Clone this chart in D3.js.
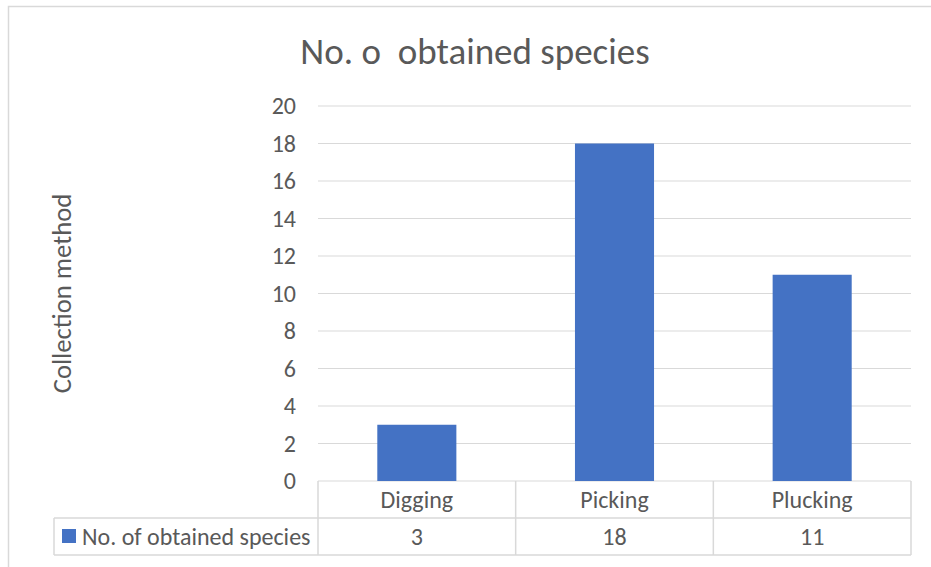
<!DOCTYPE html>
<html>
<head>
<meta charset="utf-8">
<script src="https://cdn.jsdelivr.net/npm/d3@7"></script>
<style>
  body { margin: 0; background: #fff; }
  text { font-family: Calibri, Carlito, "Open Sans", sans-serif; fill: #595959; white-space: pre; }
</style>
</head>
<body>
<div id="chart"></div>
<script>
// data
const categories = ["Digging", "Picking", "Plucking"];
const counts = [3, 18, 11];
const seriesName = "No. of obtained species";
const yTicks = [0, 2, 4, 6, 8, 10, 12, 14, 16, 18, 20];
const chartTitle = "No. o  obtained species";
const yLabel = "Collection method";

const width = 931, height = 567;
const margin = { top: 106, right: 20, bottom: 86, left: 318 };
const plotW = 911 - margin.left;
const plotH = 481 - margin.top;
const rowH = 37;
const tableLeft = 54;
const fs = 24;

const svg = d3.select("#chart")
    .append("svg")
    .attr("width", width)
    .attr("height", height);

// outer frame (top and left edges visible)
svg.append("path")
    .attr("d", "M8.5,567 V6.5 H931")
    .attr("fill", "none")
    .attr("stroke", "#d9d9d9")
    .attr("stroke-width", 1.5);

// title
svg.append("text")
    .attr("x", 475)
    .attr("y", 64)
    .attr("text-anchor", "middle")
    .style("font-size", "37px")
    .text(chartTitle);

const g = svg.append("g")
    .attr("transform", `translate(${margin.left},${margin.top})`);

// scales
const x = d3.scaleBand()
    .domain(categories)
    .range([0, plotW])
    .paddingInner(0.6)
    .paddingOuter(0.3);

const xCell = d3.scaleBand()
    .domain(categories)
    .range([0, plotW]);

const y = d3.scaleLinear()
    .domain([0, 20])
    .range([plotH, 0]);

// gridlines
g.append("g")
    .selectAll("line")
    .data(yTicks)
    .join("line")
    .attr("x1", 0)
    .attr("x2", plotW)
    .attr("y1", d => y(d))
    .attr("y2", d => y(d))
    .attr("stroke", "#d9d9d9")
    .attr("stroke-width", 1.2);

// y axis labels
const yAxisG = g.append("g")
    .call(d3.axisLeft(y).tickValues(yTicks).tickSize(0).tickPadding(22));
yAxisG.select(".domain").remove();
yAxisG.selectAll("text")
    .style("font-size", fs + "px")
    .style("font-family", "Calibri, Carlito, 'Open Sans', sans-serif")
    .attr("fill", "#595959");

// axis title
svg.append("text")
    .attr("transform", "rotate(-90)")
    .attr("x", -(margin.top + plotH / 2))
    .attr("y", 71)
    .attr("text-anchor", "middle")
    .style("font-size", "26.7px")
    .text(yLabel);

// bars
g.selectAll(".bar")
    .data(counts)
    .join("rect")
    .attr("class", "bar")
    .attr("x", (d, i) => x(categories[i]))
    .attr("y", d => y(d))
    .attr("width", x.bandwidth())
    .attr("height", d => y(0) - y(d))
    .attr("fill", "#4472c4");

// data table
const tbl = g.append("g").attr("transform", `translate(0,${plotH})`);
const lineColor = "#d9d9d9";

// horizontal lines
tbl.append("line")
    .attr("x1", tableLeft - margin.left).attr("x2", plotW)
    .attr("y1", rowH).attr("y2", rowH)
    .attr("stroke", lineColor).attr("stroke-width", 1.5);
tbl.append("line")
    .attr("x1", tableLeft - margin.left).attr("x2", plotW)
    .attr("y1", rowH * 2).attr("y2", rowH * 2)
    .attr("stroke", lineColor).attr("stroke-width", 1.5);

// vertical lines
const vx = categories.map(c => xCell(c)).concat([plotW]);
tbl.selectAll(".vline")
    .data(vx)
    .join("line")
    .attr("class", "vline")
    .attr("x1", d => d).attr("x2", d => d)
    .attr("y1", 0).attr("y2", rowH * 2)
    .attr("stroke", lineColor).attr("stroke-width", 1.5);
tbl.append("line")
    .attr("x1", tableLeft - margin.left).attr("x2", tableLeft - margin.left)
    .attr("y1", rowH).attr("y2", rowH * 2)
    .attr("stroke", lineColor).attr("stroke-width", 1.5);

// category labels
tbl.selectAll(".cat")
    .data(categories)
    .join("text")
    .attr("class", "cat")
    .attr("x", d => xCell(d) + xCell.bandwidth() / 2)
    .attr("y", rowH / 2 + 8)
    .attr("text-anchor", "middle")
    .style("font-size", fs + "px")
    .text(d => d);

// values
tbl.selectAll(".val")
    .data(counts)
    .join("text")
    .attr("class", "val")
    .attr("x", (d, i) => xCell(categories[i]) + xCell.bandwidth() / 2)
    .attr("y", rowH * 1.5 + 8)
    .attr("text-anchor", "middle")
    .style("font-size", fs + "px")
    .text(d => d);

// legend key
tbl.append("rect")
    .attr("x", 62 - margin.left)
    .attr("y", rowH + 11)
    .attr("width", 14)
    .attr("height", 14)
    .attr("fill", "#4472c4");
tbl.append("text")
    .attr("x", 82 - margin.left)
    .attr("y", rowH * 1.5 + 8)
    .style("font-size", fs + "px")
    .text(seriesName);
</script>
</body>
</html>
